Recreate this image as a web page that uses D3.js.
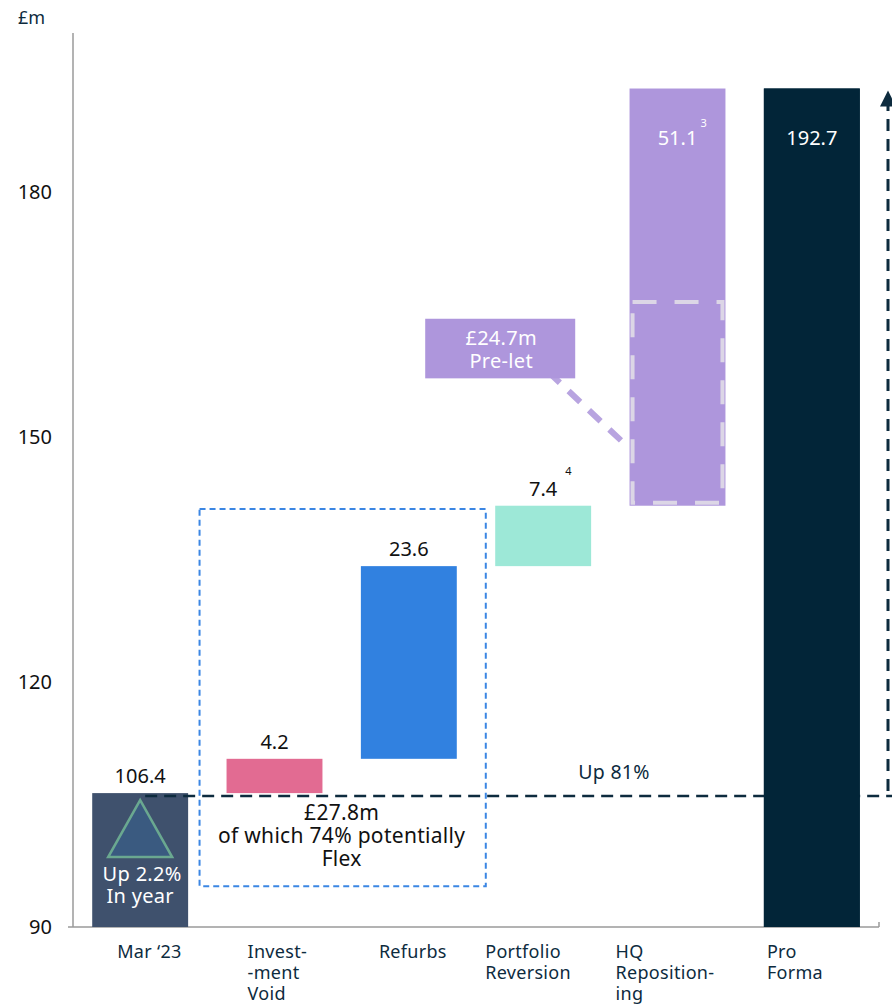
<!DOCTYPE html>
<html>
<head>
<meta charset="utf-8">
<script src="https://cdn.jsdelivr.net/npm/d3@7"></script>
<style>
  body { margin: 0; background: #fff; }
  text { font-family: "Noto Sans", "Open Sans", sans-serif; }
</style>
</head>
<body>
<div id="chart"></div>
<script>
// ---- data ----
var categories = ["Mar ‘23", "Investment Void", "Refurbs", "Portfolio Reversion", "HQ Repositioning", "Pro Forma"];
var labelLines = [["Mar ‘23"], ["Invest-", "-ment", "Void"], ["Refurbs"], ["Portfolio", "Reversion"], ["HQ", "Reposition-", "ing"], ["Pro", "Forma"]];
var values = [106.4, 4.2, 23.6, 7.4, 51.1, 192.7];
var kinds = ["total", "delta", "delta", "delta", "delta", "total"];
var colors = ["#3f516d", "#e26b92", "#3181e0", "#9de8d7", "#ae96dc", "#022538"];
var footnotes = ["", "", "", "4", "3", ""];
var yTicks = [90, 120, 150, 180];
var preLet = 24.7;
var flexTotal = 27.8;

var width = 892, height = 1006;
var svg = d3.select('#chart').append('svg')
    .attr('width', width)
    .attr('height', height);

var x = d3.scaleBand()
    .domain(categories)
    .range([73, 879])
    .paddingInner(0.286)
    .paddingOuter(0.143);
var y = d3.scaleLinear()
    .domain([90, 199.5])
    .range([927, 33]);

// label nudges (px from band start)
var labelLeft = [25, 21, 18, -10, -14, 3];

// build waterfall
var run = 0;
var bars = categories.map(function(c, i) {
    var lo, hi;
    if (kinds[i] === 'total') { lo = 90; hi = values[i]; run = values[i]; }
    else { lo = run; hi = run + values[i]; run = hi; }
    return { cat: c, lo: lo, hi: hi, value: values[i], color: colors[i], note: footnotes[i], i: i };
});

// axes
svg.append('line')
    .attr('x1', 73).attr('x2', 73)
    .attr('y1', y.range()[1]).attr('y2', y(90))
    .attr('stroke', '#9a9a9a').attr('stroke-width', 1.5);
svg.append('line')
    .attr('x1', 68).attr('x2', x.range()[1])
    .attr('y1', y(90)).attr('y2', y(90))
    .attr('stroke', '#9a9a9a').attr('stroke-width', 1.5);
svg.append('line')
    .attr('x1', x.range()[1]).attr('x2', x.range()[1])
    .attr('y1', y(90)).attr('y2', y(90) - 5)
    .attr('stroke', '#9a9a9a').attr('stroke-width', 1.5);

svg.selectAll('.ytick')
    .data(yTicks)
    .enter().append('text')
    .attr('class', 'ytick')
    .attr('x', 52)
    .attr('y', function(d) { return y(d); })
    .attr('dy', '0.35em')
    .attr('text-anchor', 'end')
    .attr('font-size', 20)
    .attr('fill', '#111')
    .text(function(d) { return d; });

svg.append('text')
    .attr('x', 18).attr('y', 24)
    .attr('font-size', 18)
    .attr('fill', '#0d2b3e')
    .text('£m');

// category labels
svg.selectAll('.xlab')
    .data(bars)
    .enter().append('text')
    .attr('class', 'xlab')
    .attr('font-size', 18)
    .attr('letter-spacing', 0.3)
    .attr('fill', '#0d2b3e')
    .each(function(d) {
        var t = d3.select(this);
        labelLines[d.i].forEach(function(line, k) {
            t.append('tspan')
                .attr('x', x(d.cat) + labelLeft[d.i])
                .attr('y', 958 + k * 21)
                .text(line);
        });
    });

// blue dashed box around investment void and refurbs
svg.append('rect')
    .attr('x', x(categories[1]) - 27)
    .attr('y', y(141.2))
    .attr('width', x(categories[2]) + x.bandwidth() + 29 - (x(categories[1]) - 27))
    .attr('height', y(95) - y(141.2))
    .attr('fill', 'none')
    .attr('stroke', '#3b86e3')
    .attr('stroke-width', 2)
    .attr('stroke-dasharray', '6,4');

// bars
svg.selectAll('.bar')
    .data(bars)
    .enter().append('rect')
    .attr('class', 'bar')
    .attr('x', function(d) { return x(d.cat); })
    .attr('y', function(d) { return y(d.hi); })
    .attr('width', x.bandwidth())
    .attr('height', function(d) { return y(d.lo) - y(d.hi); })
    .attr('fill', function(d) { return d.color; });

// pre-let dashed region inside HQ bar
var hq = bars[4];
svg.append('rect')
    .attr('x', x(hq.cat) + 3)
    .attr('y', y(hq.lo + preLet) - 2)
    .attr('width', x.bandwidth() - 6)
    .attr('height', y(hq.lo) - y(hq.lo + preLet) - 1)
    .attr('fill', 'none')
    .attr('stroke', '#dcd6e6')
    .attr('stroke-width', 4)
    .attr('stroke-dasharray', '24,18');

// pre-let call-out
var pbx = x(categories[3]) - 70;
svg.append('line')
    .attr('x1', pbx + 123).attr('y1', y(158))
    .attr('x2', x(hq.cat) - 6).attr('y2', y(149.3))
    .attr('stroke', '#b8a4e0')
    .attr('stroke-width', 6)
    .attr('stroke-dasharray', '16,12');
svg.append('rect')
    .attr('x', pbx)
    .attr('y', y(164.5))
    .attr('width', 150)
    .attr('height', y(157.2) - y(164.5))
    .attr('fill', '#ae96dc');
svg.append('text')
    .attr('x', pbx + 76).attr('y', y(164.5) + 26)
    .attr('text-anchor', 'middle')
    .attr('font-size', 20).attr('letter-spacing', 0.3)
    .attr('fill', '#fff')
    .text('£' + preLet + 'm');
svg.append('text')
    .attr('x', pbx + 76).attr('y', y(164.5) + 49)
    .attr('text-anchor', 'middle')
    .attr('font-size', 20).attr('letter-spacing', 0.3)
    .attr('fill', '#fff')
    .text('Pre-let');

// triangle in Mar '23 bar
var cx0 = x(categories[0]) + x.bandwidth() / 2;
svg.append('path')
    .attr('d', 'M' + cx0 + ',' + (y(106.4) + 7) + 'L' + (cx0 + 32) + ',' + (y(106.4) + 64) + 'L' + (cx0 - 32) + ',' + (y(106.4) + 64) + 'Z')
    .attr('fill', '#3a5a80')
    .attr('stroke', '#6aa890')
    .attr('stroke-width', 2.5);
svg.append('text')
    .attr('x', cx0 + 2).attr('y', y(106.4) + 88)
    .attr('text-anchor', 'middle').attr('font-size', 20).attr('letter-spacing', 0.3).attr('fill', '#fff')
    .text('Up 2.2%');
svg.append('text')
    .attr('x', cx0).attr('y', y(106.4) + 110)
    .attr('text-anchor', 'middle').attr('font-size', 20).attr('letter-spacing', 0.3).attr('fill', '#fff')
    .text('In year');

// dashed baseline at Mar '23 level
svg.append('line')
    .attr('x1', cx0 + 5).attr('x2', width)
    .attr('y1', y(106.4) + 3).attr('y2', y(106.4) + 3)
    .attr('stroke', '#0d2b3e')
    .attr('stroke-width', 2.5)
    .attr('stroke-dasharray', '12,7');

// re-draw pro forma on top of dashed line
svg.append('rect')
    .attr('x', x(categories[5]))
    .attr('y', y(bars[5].hi))
    .attr('width', x.bandwidth())
    .attr('height', y(90) - y(bars[5].hi))
    .attr('fill', colors[5]);

// up arrow
svg.append('line')
    .attr('x1', 888).attr('x2', 888)
    .attr('y1', y(106.4) - 2).attr('y2', y(191))
    .attr('stroke', '#0d2b3e')
    .attr('stroke-width', 3)
    .attr('stroke-dasharray', '12,8');
svg.append('path')
    .attr('d', 'M888,' + (y(192.7) + 2) + 'L896,' + (y(192.7) + 18) + 'L880,' + (y(192.7) + 18) + 'Z')
    .attr('fill', '#0d2b3e');

svg.append('text')
    .attr('x', 614).attr('y', y(106.4) - 14)
    .attr('text-anchor', 'middle').attr('font-size', 19.5).attr('letter-spacing', 0.3).attr('fill', '#0d2b3e')
    .text('Up 81%');

// flex note
var fx = (x(categories[1]) + x(categories[2]) + x.bandwidth()) / 2;
svg.append('text').attr('x', fx).attr('y', y(106.4) + 27)
    .attr('text-anchor', 'middle').attr('font-size', 21).attr('letter-spacing', 0.3).attr('fill', '#111')
    .text('£' + flexTotal + 'm');
svg.append('text').attr('x', fx).attr('y', y(106.4) + 50)
    .attr('text-anchor', 'middle').attr('font-size', 21).attr('letter-spacing', 0.3).attr('fill', '#111')
    .text('of which 74% potentially');
svg.append('text').attr('x', fx).attr('y', y(106.4) + 73)
    .attr('text-anchor', 'middle').attr('font-size', 21).attr('letter-spacing', 0.3).attr('fill', '#111')
    .text('Flex');

// value labels
bars.forEach(function(d) {
    var cx = x(d.cat) + x.bandwidth() / 2;
    var inside = d.i >= 4;
    var ly = inside ? y(d.hi) + 56 : y(d.hi) - 10;
    svg.append('text')
        .attr('x', cx).attr('y', ly)
        .attr('text-anchor', 'middle')
        .attr('font-size', 20)
        .attr('fill', inside ? '#fff' : '#111')
        .text(d.value);
    if (d.note) {
        svg.append('text')
            .attr('x', cx + (inside ? 23 : 22))
            .attr('y', ly - (inside ? 18 : 21))
            .attr('font-size', 11)
            .attr('fill', inside ? '#fff' : '#111')
            .text(d.note);
    }
});
</script>
</body>
</html>
